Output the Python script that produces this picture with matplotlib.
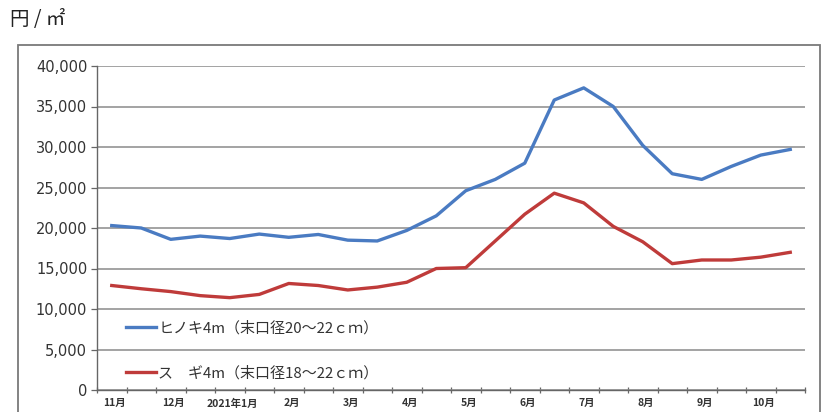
import matplotlib
matplotlib.use("Agg")
import matplotlib.pyplot as plt
from matplotlib.patches import Rectangle
import numpy as np

plt.rcParams['font.family'] = ['Noto Sans CJK JP', 'DejaVu Sans']

month_labels = ["11月", "12月", "2021年1月", "2月", "3月", "4月",
                "5月", "6月", "7月", "8月", "9月", "10月"]
hinoki = [20300, 20000, 18600, 19000, 18700, 19250, 18850, 19200, 18500, 18400,
          19700, 21500, 24600, 26000, 28000, 35800, 37300, 35000, 30200, 26700,
          26000, 27600, 29000, 29700]
sugi = [12900, 12500, 12150, 11650, 11400, 11800, 13150, 12900, 12350, 12700,
        13300, 15000, 15100, 18400, 21700, 24300, 23100, 20200, 18300, 15600,
        16050, 16050, 16400, 17000]
series_names = ["ヒノキ4m（末口径20～22ｃｍ）", "ス　ギ4m（末口径18～22ｃｍ）"]
y_ticks = [0, 5000, 10000, 15000, 20000, 25000, 30000, 35000, 40000]

W, H = 824, 412
fig = plt.figure(figsize=(W / 100, H / 100), dpi=100)
fig.patch.set_facecolor("white")

# outer chart frame
frame = Rectangle((18 / W, -0.05), (820 - 18) / W, 1.05 - 45 / H,
                  transform=fig.transFigure, fill=False, edgecolor="#7a7a7a",
                  linewidth=1.3, zorder=0)
fig.patches.append(frame)

left, right = 97 / W, 805 / W
bottom, top = 1 - 390 / H, 1 - 66 / H
ax = fig.add_axes([left, bottom, right - left, top - bottom])

x = np.arange(len(hinoki))
ax.plot(x, hinoki, color="#4a7bc2", linewidth=2.4, label=series_names[0],
        solid_joinstyle="round", zorder=3)
ax.plot(x, sugi, color="#bf3b3a", linewidth=2.4, label=series_names[1],
        solid_joinstyle="round", zorder=3)

ax.set_xlim(-0.5, len(hinoki) - 0.5)
ax.set_ylim(0, 40000)
ax.set_yticks(y_ticks)
ax.set_yticklabels([f"{v:,}" for v in y_ticks], fontsize=10.5, color="#333333",
                   family=['DejaVu Sans'])
ax.yaxis.grid(True, color="#8a8a8a", linewidth=1.1)
ax.set_axisbelow(True)

# category boundary ticks
ax.set_xticks(np.arange(-0.5, len(hinoki), 1.0))
ax.set_xticklabels([])
ax.tick_params(axis="x", which="major", direction="inout", length=5,
               color="#666666", width=0.9)
ax.set_xticks(np.arange(0, len(hinoki), 2) + 0.1, minor=True)
ax.set_xticklabels(month_labels, minor=True, fontsize=7.5, color="#333333",
                   fontweight="bold")
ax.tick_params(axis="x", which="minor", length=0, pad=6)
ax.tick_params(axis="y", length=4, color="#666666", width=0.9, pad=3)

for s in ["top", "right"]:
    ax.spines[s].set_visible(False)
for s in ["left", "bottom"]:
    ax.spines[s].set_color("#666666")
    ax.spines[s].set_linewidth(1.0)

leg = ax.legend(loc="center left", bbox_to_anchor=((118 - 97) / 708, (390 - 350.5) / 324),
                frameon=False, borderpad=0, labelspacing=2.05, handlelength=2.0,
                handletextpad=0.2, fontsize=10.8)
for t in leg.get_texts():
    t.set_color("#333333")

fig.text(10 / W, 1 - 20 / H, "円 / ㎡", fontsize=14, va="center", ha="left",
         color="#222222")

fig.savefig("out.png", dpi=100, facecolor="white")
